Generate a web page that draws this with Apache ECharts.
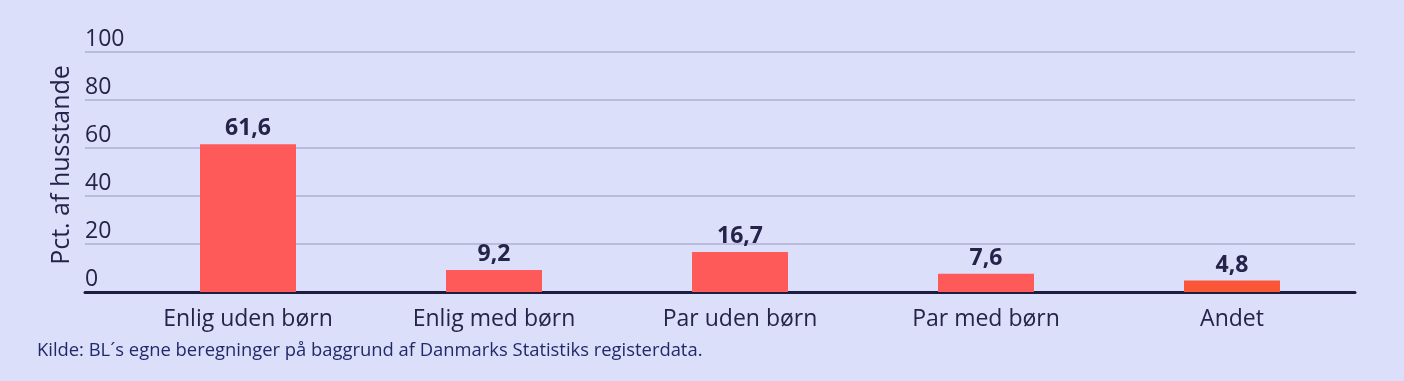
<!DOCTYPE html>
<html><head><meta charset="utf-8">
<script src="https://cdn.jsdelivr.net/npm/echarts@6/dist/echarts.min.js"></script>
<style>html,body{margin:0;padding:0;background:#dcdffa;}#c{width:1404px;height:381px;}</style>
</head><body><div id="c"></div>
<script>
const categories = ['Enlig uden børn','Enlig med børn','Par uden børn','Par med børn','Andet'];
const values = [61.6, 9.2, 16.7, 7.6, 4.8];
const barColors = ['#ff5a5a','#ff5a5a','#ff5a5a','#ff5a5a','#fa5638'];
const yTicks = [0, 20, 40, 60, 80, 100];
const yName = 'Pct. af husstande';
const source = 'Kilde: BL´s egne beregninger på baggrund af Danmarks Statistiks registerdata.';

const FONT = '"Open Sans"';
const dark = '#24234a';
const chart = echarts.init(document.getElementById('c'));
const gTop = 52, gBottom = 381 - 292;
chart.setOption({
  backgroundColor: '#dcdffa',
  animation: false,
  grid: [
    {left: 85, right: 49, top: gTop, bottom: gBottom},
    {left: 125, right: 49, top: gTop, bottom: gBottom}
  ],
  xAxis: [
    {gridIndex: 0, type: 'value', min: 0, max: 1, show: true,
     axisLine: {show: true, onZero: false, lineStyle: {color: '#1e1d40', width: 3}},
     axisTick: {show: false}, axisLabel: {show: false}, splitLine: {show: false}},
    {gridIndex: 1, type: 'category', data: categories,
     axisLine: {show: false}, axisTick: {show: false},
     axisLabel: {color: dark, fontFamily: FONT, fontSize: 23, margin: 16}}
  ],
  yAxis: [
    {gridIndex: 0, type: 'value', min: 0, max: 100, interval: 20,
     axisLine: {show: false}, axisTick: {show: false},
     axisLabel: {inside: true, verticalAlign: 'bottom', align: 'left', margin: 0,
       padding: [0, 0, 1, 0], color: dark, fontFamily: FONT, fontSize: 23,
       formatter: v => yTicks.includes(v) ? String(v) : ''},
     splitLine: {show: true, lineStyle: {color: '#b9bcdc', width: 2}}},
    {gridIndex: 1, type: 'value', min: 0, max: 100, show: false}
  ],
  series: [{
    type: 'bar', xAxisIndex: 1, yAxisIndex: 1, barWidth: 96, z: 3,
    data: values.map((v, i) => ({value: v, itemStyle: {color: barColors[i]}})),
    label: {show: true, position: 'top', distance: 4, color: dark, fontFamily: FONT,
      fontWeight: 'bold', fontSize: 23, formatter: p => String(p.value).replace('.', ',')}
  }],
  graphic: [
    {type: 'text', x: 62, y: 165, rotation: Math.PI/2,
     style: {text: yName, fill: dark, font: '25px ' + FONT, textAlign: 'center', textVerticalAlign: 'middle'}},
    {type: 'text', x: 37, y: 351,
     style: {text: source, fill: '#1f2a6b', font: '18.4px ' + FONT, textVerticalAlign: 'middle'}}
  ]
});
</script></body></html>
